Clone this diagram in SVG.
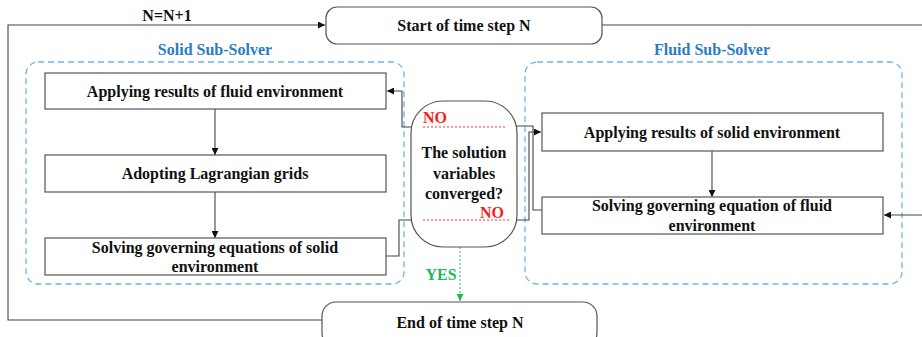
<svg xmlns="http://www.w3.org/2000/svg" width="922" height="337" viewBox="0 0 922 337">
  <style>
    .box { fill: #ffffff; stroke: #555555; stroke-width: 1.2; }
    .term { fill: #ffffff; stroke: #555555; stroke-width: 1.2; }
    .group { fill: none; stroke: #6fb3e6; stroke-width: 1.3; stroke-dasharray: 6 4; }
    .t { font-family: "Liberation Serif", "Times New Roman", serif; font-weight: bold; font-size: 16px; fill: #111111; text-anchor: middle; }
    .lbl { font-family: "Liberation Serif", "Times New Roman", serif; font-weight: bold; font-size: 16px; fill: #2b7cc4; text-anchor: middle; }
    .no { font-family: "Liberation Serif", "Times New Roman", serif; font-weight: bold; font-size: 16px; fill: #ff1a1a; }
    .yes { font-family: "Liberation Serif", "Times New Roman", serif; font-weight: bold; font-size: 16px; fill: #1db954; text-anchor: middle; }
    .line { fill: none; stroke: #444444; stroke-width: 1.1; }
    .red { fill: none; stroke: #ff3333; stroke-width: 1; stroke-dasharray: 2 2; }
    .green { fill: none; stroke: #1db954; stroke-width: 1; stroke-dasharray: 2 2; }
  </style>
  <defs>
    <marker id="arr" viewBox="0 0 10 10" refX="10" refY="5" markerWidth="7" markerHeight="7" markerUnits="userSpaceOnUse" orient="auto">
      <path d="M0,0 L10,5 L0,10 z" fill="#111111"/>
    </marker>
    <marker id="arrG" viewBox="0 0 10 10" refX="10" refY="5" markerWidth="7" markerHeight="7" markerUnits="userSpaceOnUse" orient="auto">
      <path d="M0,0 L10,5 L0,10 z" fill="#1db954"/>
    </marker>
  </defs>

  <!-- sub-solver groups -->
  <g id="solid-group">
    <rect class="group" x="26" y="62" width="378" height="222" rx="12"/>
    <text class="lbl" x="215" y="55">Solid Sub-Solver</text>
  </g>
  <g id="fluid-group">
    <rect class="group" x="525" y="62" width="377" height="222" rx="12"/>
    <text class="lbl" x="712" y="55">Fluid Sub-Solver</text>
  </g>

  <!-- connectors -->
  <g id="connectors">
    <!-- loop back: end -> start -->
    <path class="line" d="M322,320 H8 V25 H325" marker-end="url(#arr)"/>
    <text class="t" x="167" y="21">N=N+1</text>
    <!-- start -> fluid solver (runs along the right border) -->
    <path class="line" d="M602,25 H923 V215 H884" marker-end="url(#arr)"/>
    <!-- solid chain -->
    <path class="line" d="M215,109 V155" marker-end="url(#arr)"/>
    <path class="line" d="M215,192 V238" marker-end="url(#arr)"/>
    <!-- fluid chain -->
    <path class="line" d="M712,151 V197" marker-end="url(#arr)"/>
    <!-- solid result -> decision -> fluid -->
    <path class="line" d="M386,256 H399 V220 H422" marker-end="url(#arr)"/>
    <path class="line" d="M510,220 H529 V132 H541" marker-end="url(#arr)"/>
    <!-- fluid result -> decision -> solid -->
    <path class="line" d="M542,210 H533 V126 H506" marker-end="url(#arr)"/>
    <path class="line" d="M423,127 H402 V91 H387" marker-end="url(#arr)"/>
    <!-- converged -> end -->
    <path class="green" d="M460,247 V301" marker-end="url(#arrG)"/>
    <text class="yes" x="441" y="280">YES</text>
  </g>

  <g id="start">
    <rect class="term" x="326" y="7" width="276" height="37" rx="11"/>
    <text class="t" x="464" y="31">Start of time step N</text>
  </g>

  <g id="apply-fluid">
    <rect class="box" x="45" y="73" width="341" height="36"/>
    <text class="t" x="215" y="97">Applying results of fluid environment</text>
  </g>
  <g id="lagrangian">
    <rect class="box" x="45" y="155" width="341" height="37"/>
    <text class="t" x="215" y="179">Adopting Lagrangian grids</text>
  </g>
  <g id="solve-solid">
    <rect class="box" x="45" y="238" width="341" height="37"/>
    <text class="t" x="215" y="253">Solving governing equations of solid</text>
    <text class="t" x="215" y="272">environment</text>
  </g>

  <g id="decision">
    <rect class="term" x="411" y="101" width="106" height="146" rx="32"/>
    <text class="t" x="464" y="158">The solution</text>
    <text class="t" x="464" y="179">variables</text>
    <text class="t" x="464" y="199">converged?</text>
    <path class="red" d="M505,127 H423"/>
    <path class="red" d="M423,220 H510"/>
    <text class="no" x="423" y="123">NO</text>
    <text class="no" x="480" y="218">NO</text>
  </g>

  <g id="apply-solid">
    <rect class="box" x="542" y="113" width="341" height="38"/>
    <text class="t" x="712" y="138">Applying results of solid environment</text>
  </g>
  <g id="solve-fluid">
    <rect class="box" x="542" y="197" width="341" height="37"/>
    <text class="t" x="712" y="211">Solving governing equation of fluid</text>
    <text class="t" x="712" y="231">environment</text>
  </g>

  <g id="end">
    <rect class="term" x="322" y="302" width="275" height="45" rx="14"/>
    <text class="t" x="460" y="328">End of time step N</text>
  </g>
</svg>
